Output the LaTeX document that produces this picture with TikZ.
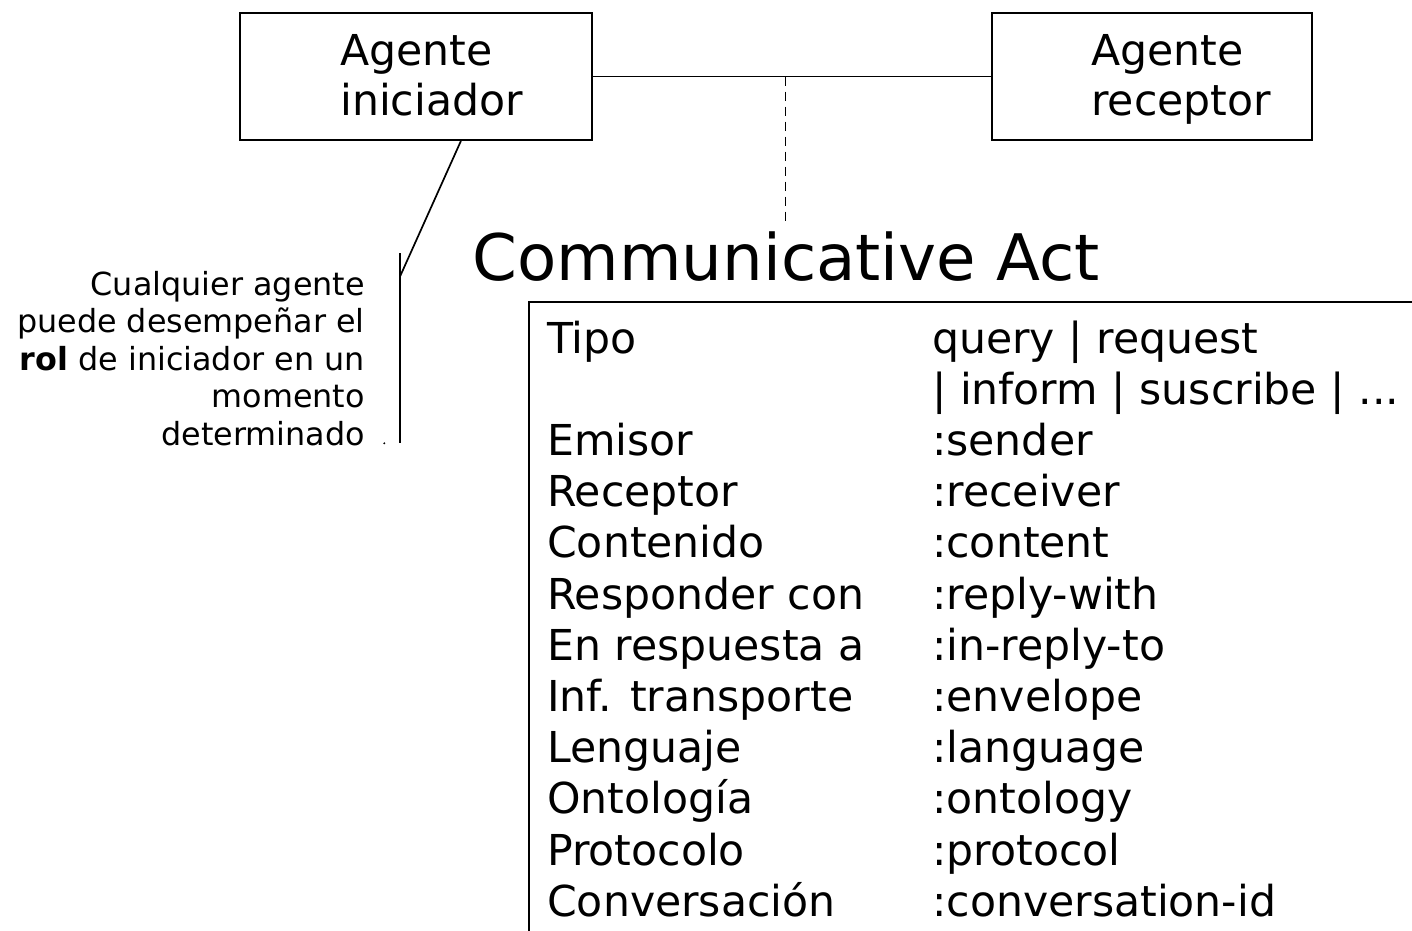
\documentclass[tikz,border=0pt]{standalone}
\usepackage{fontspec}
\setmainfont{DejaVu Sans}
\usetikzlibrary{calc}
\begin{document}
\begin{tikzpicture}[x=1pt,y=-1pt,
  agent/.style={draw, rectangle, line width=1.8pt, inner sep=0pt},
  agenttext/.style={inner sep=0pt, anchor=base west, font=\fontsize{42.6}{50.5}\selectfont},
  conn/.style={line width=1.7pt},
  dashconn/.style={line width=1.3pt, dash pattern=on 9pt off 6pt},
  titletext/.style={inner xsep=0pt, inner ysep=10.5pt, anchor=base west, font=\fontsize{64.2}{77}\selectfont},
  frame/.style={draw, rectangle, line width=1.8pt, inner sep=0pt, anchor=north west},
  fields/.style={inner sep=0pt, anchor=base west, font=\fontsize{42.6}{51.2}\selectfont},
  note/.style={inner sep=0pt, anchor=base east, font=\fontsize{31.8}{37.5}\selectfont}
]
\clip (0,0) rectangle (1412,930);

% the two agents and the link between them
\node[agent, minimum width=352pt, minimum height=127pt] (ini) at (416,76.5) {};
\node[agent, minimum width=320pt, minimum height=127pt] (rec) at (1152,76.5) {};
\node[agenttext] (iniT) at (340,65) {\begin{tabular}[t]{@{}l@{}}Agente\\iniciador\end{tabular}};
\node[agenttext] (recT) at (1091,65) {\begin{tabular}[t]{@{}l@{}}Agente\\receptor\end{tabular}};
\draw[conn] (ini) -- (rec);

% the message exchanged
\node[titletext] (title) at (472.5,280) {Communicative Act};
\coordinate (mid) at (785.5,76.5);
\draw[dashconn] (mid) -- (mid |- title.north);

% parameter table (open to the right and bottom)
\node[frame, minimum width=950pt, minimum height=680pt] (actbox) at (528,301) {};
\node[fields] (act) at (547,353) {\begin{tabular}[t]{@{}p{385pt}@{}l@{}}
Tipo & query | request\\
 & | inform | suscribe | ...\\
Emisor & :sender\\
Receptor & :receiver\\
Contenido & :content\\
Responder con & :reply-with\\
En respuesta a & :in-reply-to\\
Inf. transporte & :envelope\\
Lenguaje & :language\\
Ontología & :ontology\\
Protocolo & :protocol\\
Conversación & :conversation-id
\end{tabular}};

% note on the initiator role
\coordinate (jt) at (400,253);
\coordinate (jm) at (400,276.5);
\coordinate (jb) at (400,443);
\draw[conn] ($(ini.south west)!0.627!(ini.south east)$) -- (jm);
\draw[conn] (jt) -- (jb);
\fill (384.3,443.3) circle (1.1pt);
\node[note] (rol) at (365,295) {\begin{tabular}[t]{@{}r@{}}Cualquier agente\\puede desempeñar el\\\textbf{rol} de iniciador en un\\momento\\determinado\end{tabular}};
\end{tikzpicture}
\end{document}
